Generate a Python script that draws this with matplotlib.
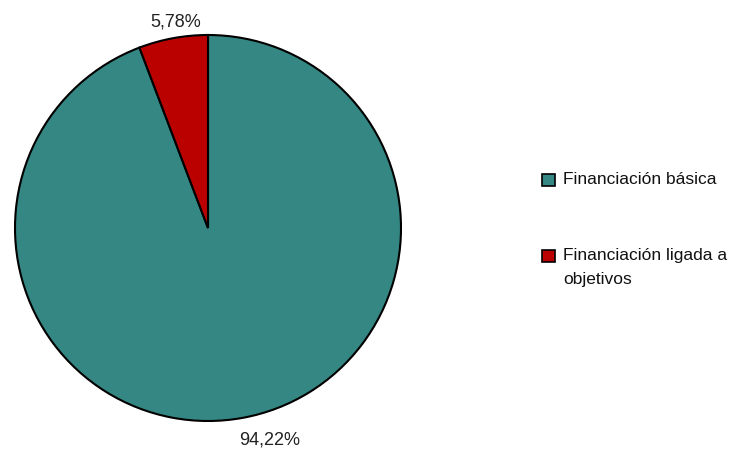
import matplotlib.pyplot as plt
import numpy as np
from matplotlib.patches import Rectangle

plt.rcParams["font.family"] = ["Liberation Sans", "DejaVu Sans"]

categories = ["Financiación básica", "Financiación ligada a\nobjetivos"]
values = [94.22, 5.78]
value_labels = ["94,22%", "5,78%"]
colors = ["#358784", "#BB0000"]

W, H = 752, 452
fig = plt.figure(figsize=(W / 100, H / 100), dpi=100)
r_px = 193
cx, cy = 208, H - 229
ax = fig.add_axes([(cx - r_px) / W, (cy - r_px) / H, 2 * r_px / W, 2 * r_px / H])

wedges, _ = ax.pie(
    values,
    colors=colors,
    startangle=90,
    counterclock=False,
    wedgeprops=dict(edgecolor="black", linewidth=1.5),
)
ax.set_xlim(-1, 1)
ax.set_ylim(-1, 1)
ax.set_aspect("equal")
ax.axis("off")

# value labels just outside each wedge (small nudges to match the original)
nudges = {"94,22%": (0.12, 0.0), "5,78%": (0.035, -0.02)}
for w, lab in zip(wedges, value_labels):
    ang = np.deg2rad((w.theta1 + w.theta2) / 2)
    dx, dy = nudges[lab]
    x, y = 1.11 * np.cos(ang) + dx, 1.11 * np.sin(ang) + dy
    ax.text(x, y, lab, ha="center", va="center", fontsize=13, color="#222222",
            clip_on=False)

# legend, drawn by hand so the marker sits on the first line of each entry
entry_y = [181, 257]
for cat, col, yp in zip(categories, colors, entry_y):
    fig.patches.append(Rectangle((542 / W, (H - yp - 6) / H), 13 / W, 12 / H,
                                 transform=fig.transFigure, facecolor=col,
                                 edgecolor="black", linewidth=1.2))
    fig.text(563 / W, (H - yp + 9) / H, cat, ha="left", va="top",
             fontsize=12.5, color="#111111", linespacing=1.75)

fig.savefig("out.png", dpi=100)
